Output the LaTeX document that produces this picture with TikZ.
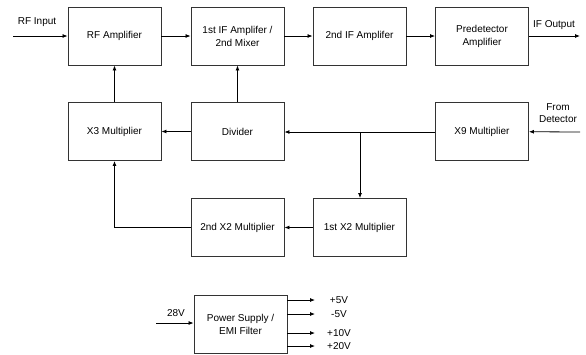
\documentclass[tikz,border=0pt]{standalone}
\usepackage{fontspec}
\setmainfont{Liberation Sans}
\usetikzlibrary{arrows.meta}
\begin{document}
\begin{tikzpicture}[x=1pt,y=-1pt,
  >={Latex[length=5pt,width=4pt]},
  block/.style={draw=black!80, line width=0.9pt, minimum width=93pt, minimum height=58pt, inner sep=0pt, align=center, font=\fontsize{10}{13}\selectfont},
  lbl/.style={inner sep=0pt, align=center, font=\fontsize{10}{12}\selectfont},
  every path/.style={line width=0.8pt}]
\useasboundingbox (0,0) rectangle (586,354);
\node[block] (rfamp) at (114.5,36) {RF Amplifier};
\node[block] (ifone) at (237.5,36) {1st IF Amplifer /\\2nd Mixer};
\node[block] (iftwo) at (359.5,36) {2nd IF Amplifer};
\node[block] (predet) at (482,36) {Predetector\\Amplifier};
\node[block] (xthree) at (114.5,131.5) {X3 Multiplier};
\node[block] (divider) at (237.5,131.5) {Divider};
\node[block] (xnine) at (482,131.5) {X9 Multiplier};
\node[block] (xtwob) at (237.5,227.5) {2nd X2 Multiplier};
\node[block] (xtwoa) at (359.5,227.5) {1st X2 Multiplier};
\node[block] (psu) at (240.5,324) {Power Supply /\\EMI Filter};

\coordinate (rfin) at (13,36);
\coordinate (ifout) at (580,36);
\coordinate (det) at (580,132);
\coordinate (split) at (360,132);
\coordinate (vin) at (156,323);
\coordinate (pfive) at (315,300);
\coordinate (mfive) at (315,314);
\coordinate (pten) at (315,333);
\coordinate (ptwenty) at (315,346);

\node[lbl] (rfinlbl) at (37,22) {RF Input};
\node[lbl] (ifoutlbl) at (554,25) {IF Output};
\node[lbl] (detlbl) at (558,113) {From\\Detector};
\node[lbl] (vinlbl) at (176,313) {28V};
\node[lbl] (pfivelbl) at (339,300) {+5V};
\node[lbl] (mfivelbl) at (339,314) {-5V};
\node[lbl] (ptenlbl) at (339,333) {+10V};
\node[lbl] (ptwentylbl) at (339,346) {+20V};

\draw[->] (rfin) -- (rfamp);
\draw[->] (rfamp) -- (ifone);
\draw[->] (ifone) -- (iftwo);
\draw[->] (iftwo) -- (predet);
\draw[->] (predet) -- (ifout);
\draw[->] (det) -- (xnine);
\draw[->] (xnine.west |- split) -- (divider.east |- split);
\draw[->] (divider) -- (xthree);
\draw[->] (xthree) -- (rfamp);
\draw[->] (divider) -- (ifone);
\draw[->] (split) -- (xtwoa.north -| split);
\draw[->] (xtwoa) -- (xtwob);
\draw[->] (xtwob.west) -| (xthree.south);
\draw[->] (vin) -- (psu.west |- vin);
\draw[->] (psu.east |- pfive) -- (pfive);
\draw[->] (psu.east |- mfive) -- (mfive);
\draw[->] (psu.east |- pten) -- (pten);
\draw[->] (psu.east |- ptwenty) -- (ptwenty);
\end{tikzpicture}
\end{document}
